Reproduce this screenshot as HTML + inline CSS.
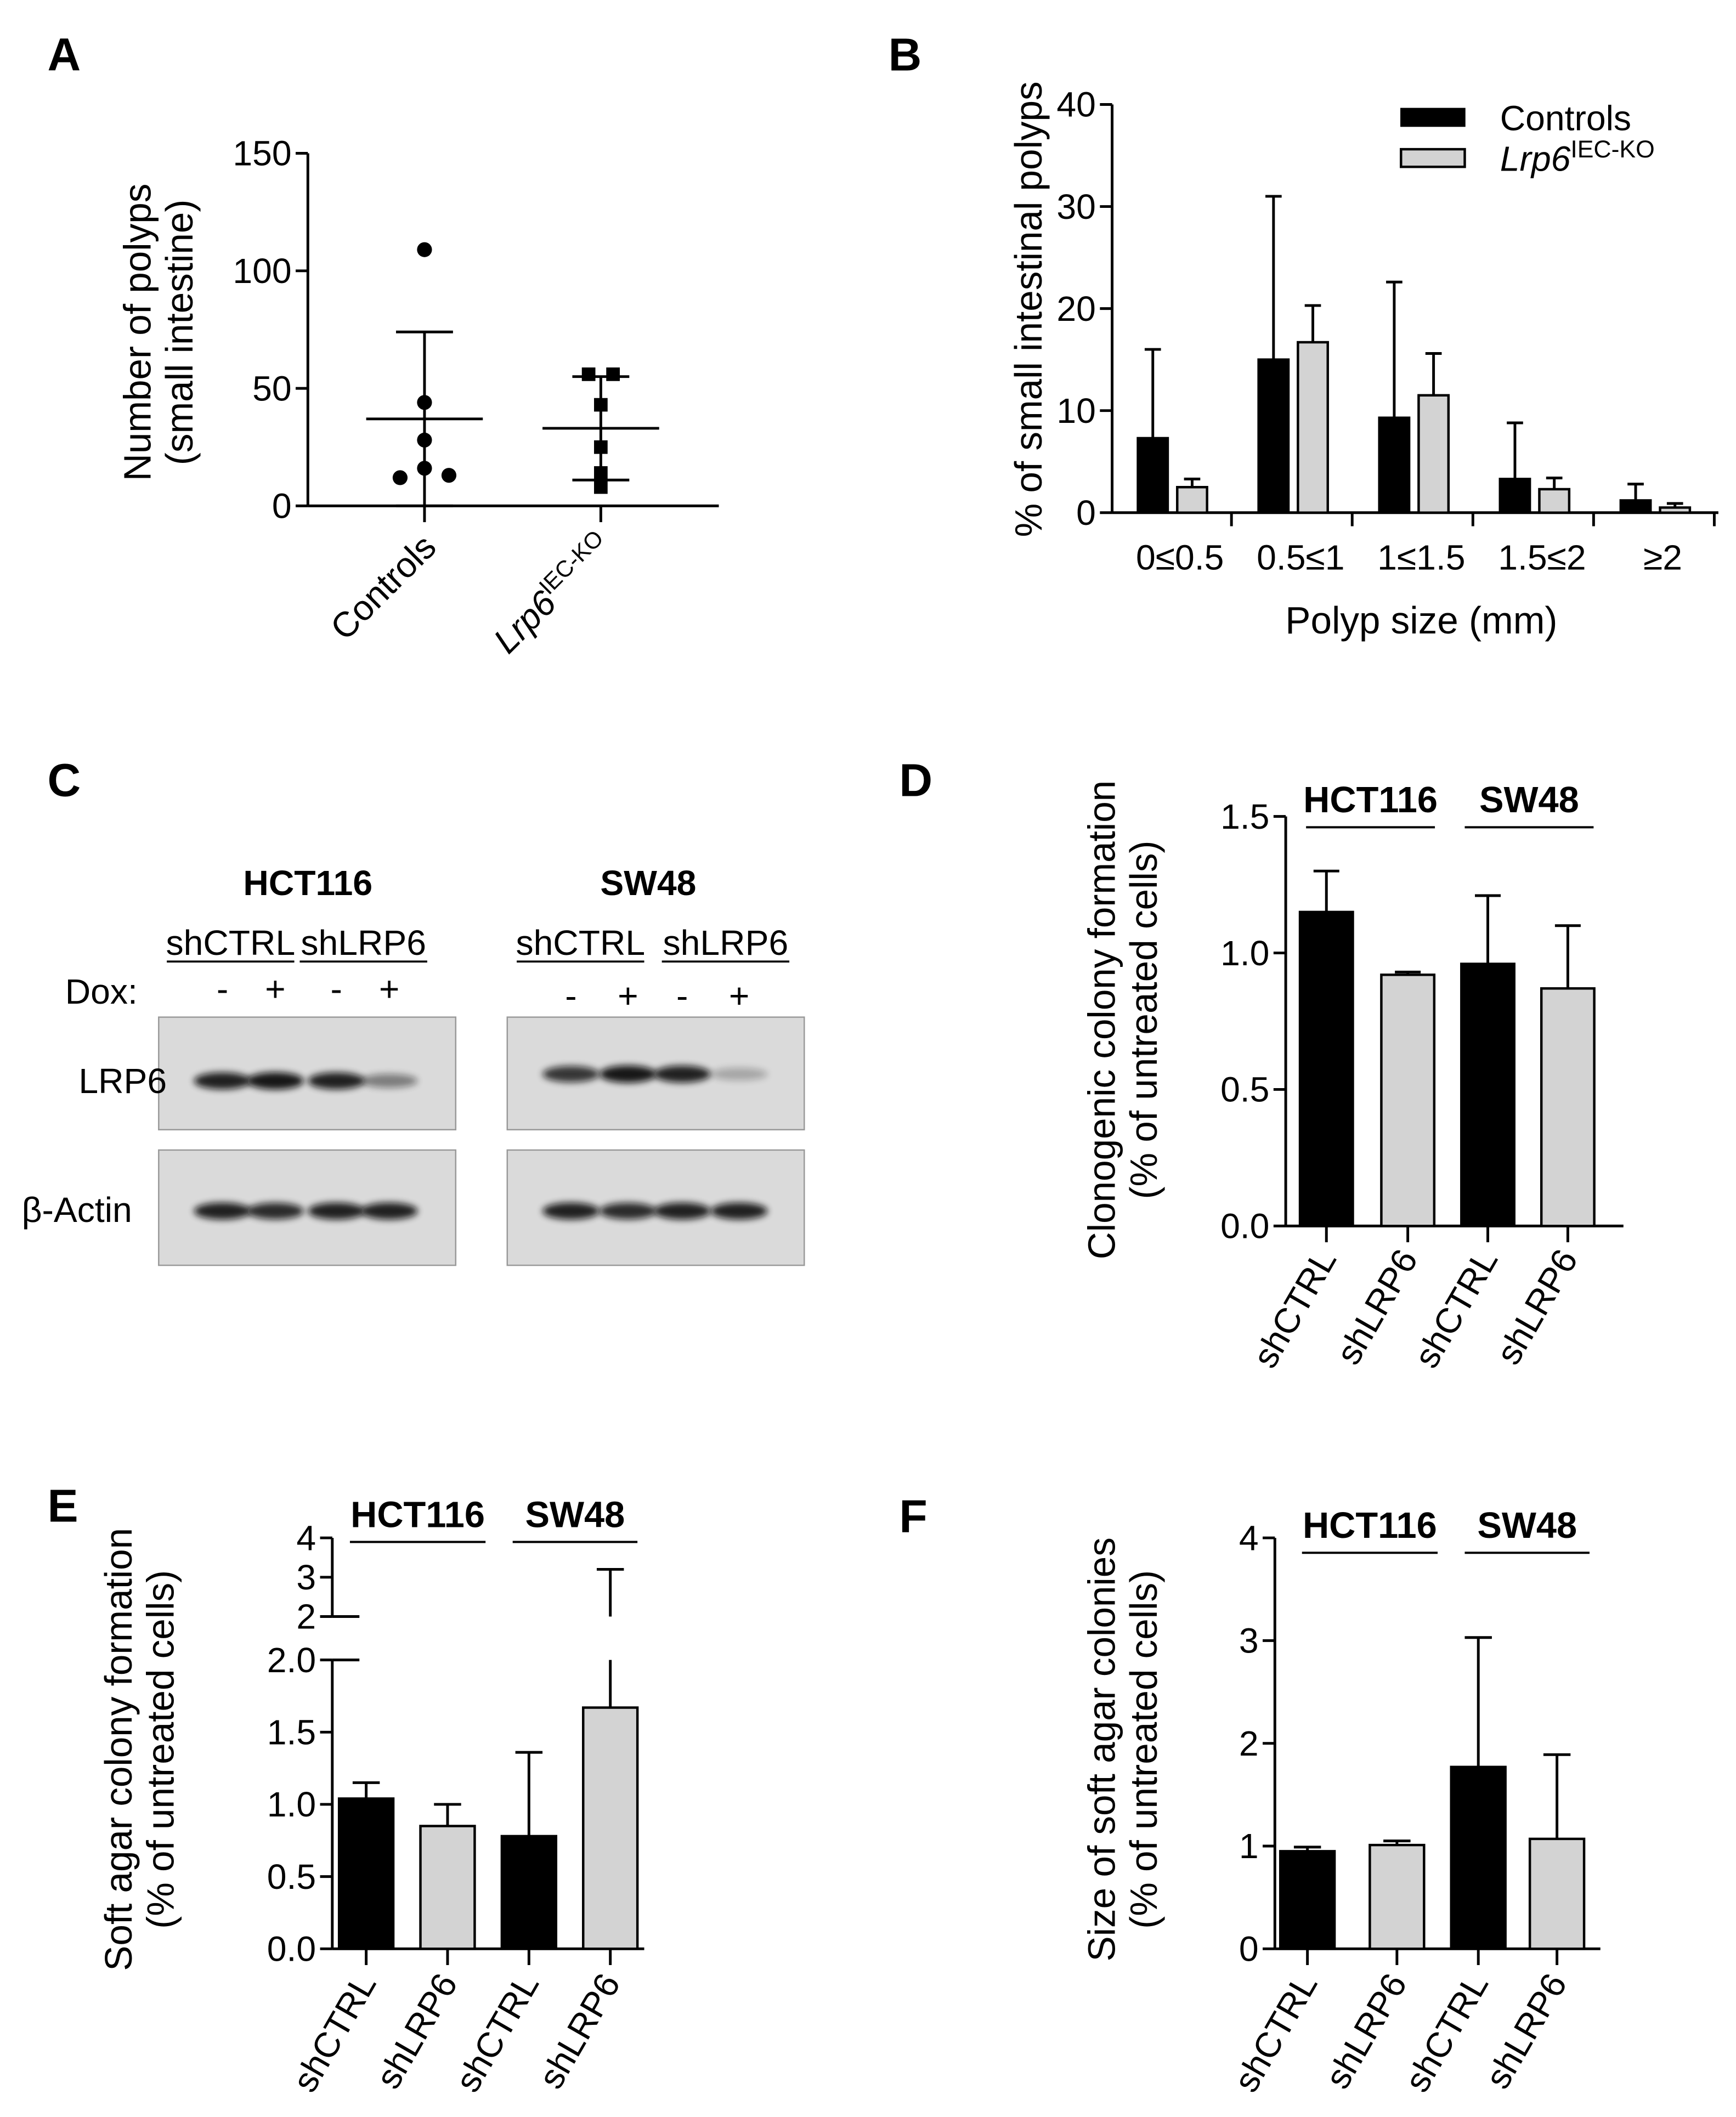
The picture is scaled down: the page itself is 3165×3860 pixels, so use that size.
<!DOCTYPE html>
<html><head><meta charset="utf-8">
<style>
html,body{margin:0;padding:0;background:#fff;}
svg{display:block;font-family:"Liberation Sans",Arial,sans-serif;}
</style></head>
<body>
<svg id="fig" width="3165" height="3860" viewBox="0 0 1280 1561" xmlns="http://www.w3.org/2000/svg">
<rect width="1280" height="1561" fill="#fff"/>
<g font-weight="bold" font-size="34" fill="#000">
<text x="35" y="52">A</text>
<text x="655" y="52">B</text>
<text x="35" y="587">C</text>
<text x="663" y="587">D</text>
<text x="35" y="1122">E</text>
<text x="663" y="1130">F</text>
</g>
<g id="gA"></g>
<g id="gB"></g>
<g id="gC"></g>
<g id="gD"></g>
<g id="gE"></g>
<g id="gF"></g>
</svg>
<script>
// ---------- data ----------
const aCategories = ["Controls", "Lrp6"];
const aControls = [109, 44, 28, 13, 12, 16];
const aKO = [56, 56, 43, 25, 14, 8];
const aMean = [37, 33];
const aSdLow = [0, 11];
const aSdHigh = [74, 55];
const aTicks = [0, 50, 100, 150];

const bCategories = ["0\u22640.5", "0.5\u22641", "1\u22641.5", "1.5\u22642", "\u22652"];
const bControls = [7.3, 15, 9.3, 3.3, 1.2];
const bControlsErr = [16, 31, 22.6, 8.8, 2.8];
const bKO = [2.5, 16.7, 11.5, 2.3, 0.5];
const bKOErr = [3.3, 20.3, 15.6, 3.4, 0.9];
const bTicks = [0, 10, 20, 30, 40];

const cellCategories = ["shCTRL", "shLRP6", "shCTRL", "shLRP6"];
const dValues = [1.15, 0.92, 0.96, 0.87];
const dErrTop = [1.30, 0.93, 1.21, 1.10];
const dTicks = [0.0, 0.5, 1.0, 1.5];

const eValues = [1.04, 0.85, 0.78, 1.67];
const eErrTop = [1.15, 1.0, 1.36, 3.2];
const eTicksLow = [0.0, 0.5, 1.0, 1.5, 2.0];
const eTicksHigh = [2, 3, 4];

const fValues = [0.95, 1.01, 1.77, 1.07];
const fErrTop = [0.99, 1.05, 3.03, 1.89];
const fTicks = [0, 1, 2, 3, 4];

const blotLRP6 = [0.9, 0.95, 0.9, 0.45];
const blotLRP6b = [0.8, 0.95, 0.9, 0.25];
const blotActin = [0.9, 0.85, 0.9, 0.9];

// ---------- helpers ----------
const NS = "http://www.w3.org/2000/svg";
function el(parent, tag, attrs, text) {
  const e = document.createElementNS(NS, tag);
  for (const k in attrs) e.setAttribute(k, attrs[k]);
  if (text !== undefined) e.textContent = text;
  parent.appendChild(e);
  return e;
}
function line(p, x1, y1, x2, y2, w) {
  return el(p, "line", {x1, y1, x2, y2, stroke: "#000", "stroke-width": w || 2});
}
const FS = 26;
const TS = 28;
function fmt(v, d) { return d ? v.toFixed(d) : String(v); }

function yAxis(g, x, yScale, ticks, dec, y0, y1) {
  const ax = line(g, x, y0, x, y1);
  
  
  ticks.forEach(t => {
    const y = yScale(t);
    line(g, x - 9, y, x, y);
    const tx = el(g, "text", {x: x - 12, y: y + 9, "text-anchor": "end", "font-size": FS}, fmt(t, dec));
    
    
  });
}
function rotLabel(g, cx, cy, lines) {
  const t = el(g, "text", {transform: `translate(${cx},${cy}) rotate(-90)`, "text-anchor": "middle", "font-size": TS});
  
  
  lines.forEach((s, i) => el(t, "tspan", {x: 0, dy: i ? 31 : 0}, s));
}
function xRotLabels(g, xs, y, labels) {
  labels.forEach((s, i) => {
    const t = el(g, "text", {transform: `translate(${xs[i] + 8},${y}) rotate(-60)`, "text-anchor": "end", "font-size": FS}, s);
    
    
  });
}
function bar(g, cx, w, y0, y, fill, name) {
  const r = el(g, "rect", {x: cx - w / 2, y: Math.min(y, y0), width: w, height: Math.abs(y0 - y), fill, stroke: "#000", "stroke-width": 1.8});
  
  
  return r;
}
function errUp(g, cx, yTop, yFrom, half) {
  line(g, cx, yFrom, cx, yTop, 2);
  line(g, cx - half, yTop, cx + half, yTop, 2);
}
function groupHeader(g, x1, x2, y, txt) {
  const t = el(g, "text", {x: (x1 + x2) / 2, y: y, "text-anchor": "middle", "font-size": 27, "font-weight": "bold"}, txt);
  
  
  line(g, x1, y + 11, x2, y + 11, 1.6);
}

// ---------- Panel A ----------
(function () {
  const g = document.getElementById("gA");
  const y0 = 373, yTop = 113, x0 = 227;
  const ys = v => y0 - (v / 150) * (y0 - yTop);
  const xs = [313, 443];
  yAxis(g, x0, ys, aTicks, 0, y0, yTop);
  line(g, x0, y0, 530, y0);
  xs.forEach(x => line(g, x, y0, x, y0 + 12));
  rotLabel(g, 111, 245, ["Number of polyps", "(small intestine)"]);
  aControls.forEach((v, i) => {
    const c = el(g, "circle", {cx: xs[0] + (i === 3 ? 18 : i === 4 ? -18 : 0), cy: ys(v), r: 5.5, fill: "#000"});
    
    
  });
  aKO.forEach((v, i) => {
    const dx = i === 0 ? -9 : i === 1 ? 9 : 0;
    const r = el(g, "rect", {x: xs[1] + dx - 5, y: ys(v) - 5, width: 10, height: 10, fill: "#000"});
    
    
  });
  aMean.forEach((m, i) => {
    const x = xs[i];
    line(g, x - 43, ys(m), x + 43, ys(m), 2);
    line(g, x, ys(aSdLow[i]), x, ys(aSdHigh[i]), 2);
    line(g, x - 21, ys(aSdHigh[i]), x + 21, ys(aSdHigh[i]), 2);
    line(g, x - 21, ys(aSdLow[i]), x + 21, ys(aSdLow[i]), 2);
  });
  const t1 = el(g, "text", {transform: `translate(${xs[0] + 10},${y0 + 32}) rotate(-45)`, "text-anchor": "end", "font-size": FS}, "Controls");
  
  
  const t2 = el(g, "text", {transform: `translate(${xs[1] + 10},${y0 + 32}) rotate(-45)`, "text-anchor": "end", "font-size": FS});
  
  
  el(t2, "tspan", {"font-style": "italic"}, "Lrp6");
  el(t2, "tspan", {dy: -10, "font-size": 17}, "IEC-KO");
})();

// ---------- Panel B ----------
(function () {
  const g = document.getElementById("gB");
  const y0 = 378, yTop = 77, x0 = 820;
  const ys = v => y0 - (v / 40) * (y0 - yTop);
  yAxis(g, x0, ys, bTicks, 0, y0, yTop);
  line(g, x0, y0, 1267, y0);
  const centers = bCategories.map((c, i) => 868 + i * 89);
  centers.forEach((cx, i) => {
    bar(g, cx - 18, 22, y0, ys(bControls[i]), "#000", "bar-controls");
    errUp(g, cx - 18, ys(bControlsErr[i]), ys(bControls[i]), 6);
    bar(g, cx + 11, 22, y0, ys(bKO[i]), "#d3d3d3", "bar-lrp6-ko");
    errUp(g, cx + 11, ys(bKOErr[i]), ys(bKO[i]), 6);
    line(g, cx + 40, y0, cx + 40, y0 + 10);
    const t = el(g, "text", {x: cx + 2, y: 420, "text-anchor": "middle", "font-size": FS}, bCategories[i]);
    
    
  });
  rotLabel(g, 768, 228, ["% of small intestinal polyps"]);
  const xt = el(g, "text", {x: 1048, y: 467, "text-anchor": "middle", "font-size": TS}, "Polyp size (mm)");
  
  
  const l1 = el(g, "rect", {x: 1033, y: 80, width: 47, height: 13, fill: "#000", stroke: "#000"});
  
  
  const l2 = el(g, "rect", {x: 1033, y: 110, width: 47, height: 13, fill: "#d3d3d3", stroke: "#000", "stroke-width": 1.8});
  
  
  const lt1 = el(g, "text", {x: 1106, y: 96, "font-size": FS}, "Controls");
  
  
  const lt2 = el(g, "text", {x: 1106, y: 126, "font-size": FS});
  
  
  el(lt2, "tspan", {"font-style": "italic"}, "Lrp6");
  el(lt2, "tspan", {dy: -10, "font-size": 18}, "IEC-KO");
})();

// ---------- Panel C ----------
(function () {
  const g = document.getElementById("gC");
  const defs = el(g, "defs", {});
  const f = el(defs, "filter", {id: "blur", x: "-20%", y: "-100%", width: "140%", height: "300%"});
  el(f, "feGaussianBlur", {stdDeviation: 2.5});
  function blot(x, y, w, h, lanes, vals, bandY, name) {
    const r = el(g, "rect", {x, y, width: w, height: h, fill: "#dadada", stroke: "#999", "stroke-width": 1});
    
    
    lanes.forEach((lx, i) => {
      const b = el(g, "ellipse", {cx: lx, cy: bandY, rx: 21, ry: 4 + 2.5 * vals[i], fill: "#111", opacity: vals[i], filter: "url(#blur)"});
      
      
    });
  }
  const L = [164, 203, 248, 287], R = [421, 463, 503, 545];
  blot(117, 750, 219, 83, L, blotLRP6, 797, "lrp6-blot-hct116");
  blot(117, 848, 219, 85, L, blotActin, 893, "actin-blot-hct116");
  blot(374, 750, 219, 83, R, blotLRP6b, 792, "lrp6-blot-sw48");
  blot(374, 848, 219, 85, R, blotActin, 893, "actin-blot-sw48");
  const hs = [["HCT116", 227], ["SW48", 478]];
  hs.forEach(h => {
    const t = el(g, "text", {x: h[1], y: 660, "text-anchor": "middle", "font-size": 26, "font-weight": "bold"}, h[0]);
    
    
  });
  [[170, 704], [268, 704], [428, 704], [535, 704]].forEach((p, i) => {
    const t = el(g, "text", {x: p[0], y: p[1], "text-anchor": "middle", "font-size": FS}, i % 2 ? "shLRP6" : "shCTRL");
    
    
    line(g, p[0] - 47, p[1] + 5, p[0] + 47, p[1] + 5, 1.5);
  });
  const dox = el(g, "text", {x: 48, y: 740, "font-size": FS}, "Dox:");
  
  
  L.concat(R).forEach((x, i) => {
    const t = el(g, "text", {x, y: i < 4 ? 738 : 743, "text-anchor": "middle", "font-size": FS}, i % 2 ? "+" : "-");
    
    
  });
  const a = el(g, "text", {x: 58, y: 806, "font-size": FS}, "LRP6");
  
  
  const b = el(g, "text", {x: 16, y: 901, "font-size": FS}, "\u03b2-Actin");
  
  
})();

// ---------- Panel D ----------
(function () {
  const g = document.getElementById("gD");
  const y0 = 904, yTop = 602, x0 = 948;
  const ys = v => y0 - (v / 1.5) * (y0 - yTop);
  yAxis(g, x0, ys, dTicks, 1, y0, yTop);
  const xs = [978, 1038, 1097, 1156];
  line(g, x0, y0, 1197, y0);
  xs.forEach((x, i) => {
    bar(g, x, 39, y0, ys(dValues[i]), i % 2 ? "#d3d3d3" : "#000", "bar-" + cellCategories[i]);
    errUp(g, x, ys(dErrTop[i]), ys(dValues[i]), 9.5);
    line(g, x, y0, x, y0 + 12);
  });
  xRotLabels(g, xs, 928, cellCategories);
  rotLabel(g, 822, 752, ["Clonogenic colony formation", "(% of untreated cells)"]);
  groupHeader(g, 963, 1058, 599, "HCT116");
  groupHeader(g, 1080, 1175, 599, "SW48");
})();

// ---------- Panel E ----------
(function () {
  const g = document.getElementById("gE");
  const y0 = 1437, yBrk = 1224, x0 = 245;
  const ysLow = v => y0 - (v / 2) * (y0 - yBrk);
  const ysHigh = v => 1192 - (v - 2) * 29;
  yAxis(g, x0, ysLow, eTicksLow, 1, y0, yBrk);
  yAxis(g, x0, ysHigh, eTicksHigh, 0, 1192, ysHigh(4));
  line(g, x0, 1192, x0 + 20, 1192, 2);
  line(g, x0, yBrk, x0 + 20, yBrk, 2);
  const xs = [270, 330, 390, 450];
  line(g, x0, y0, 475, y0);
  xs.forEach((x, i) => {
    bar(g, x, 40, y0, ysLow(eValues[i]), i % 2 ? "#d3d3d3" : "#000", "bar-" + cellCategories[i]);
    const top = eErrTop[i];
    if (top <= 2) {
      errUp(g, x, ysLow(top), ysLow(eValues[i]), 10);
    } else {
      line(g, x, ysLow(eValues[i]), x, yBrk, 2);
      errUp(g, x, ysHigh(top), 1192, 10);
    }
    line(g, x, y0, x, y0 + 12);
  });
  xRotLabels(g, xs, 1462, cellCategories);
  rotLabel(g, 97, 1290, ["Soft agar colony formation", "(% of untreated cells)"]);
  groupHeader(g, 258, 358, 1126, "HCT116");
  groupHeader(g, 378, 470, 1126, "SW48");
})();

// ---------- Panel F ----------
(function () {
  const g = document.getElementById("gF");
  const y0 = 1437, yTop = 1134, x0 = 940;
  const ys = v => y0 - (v / 4) * (y0 - yTop);
  yAxis(g, x0, ys, fTicks, 0, y0, yTop);
  const xs = [964, 1030, 1090, 1148];
  line(g, x0, y0, 1180, y0);
  xs.forEach((x, i) => {
    bar(g, x, 40, y0, ys(fValues[i]), i % 2 ? "#d3d3d3" : "#000", "bar-" + cellCategories[i]);
    errUp(g, x, ys(fErrTop[i]), ys(fValues[i]), 10);
    line(g, x, y0, x, y0 + 12);
  });
  xRotLabels(g, xs, 1462, cellCategories);
  rotLabel(g, 822, 1290, ["Size of soft agar colonies", "(% of untreated cells)"]);
  groupHeader(g, 960, 1060, 1134, "HCT116");
  groupHeader(g, 1080, 1172, 1134, "SW48");
})();
</script>
</body></html>
